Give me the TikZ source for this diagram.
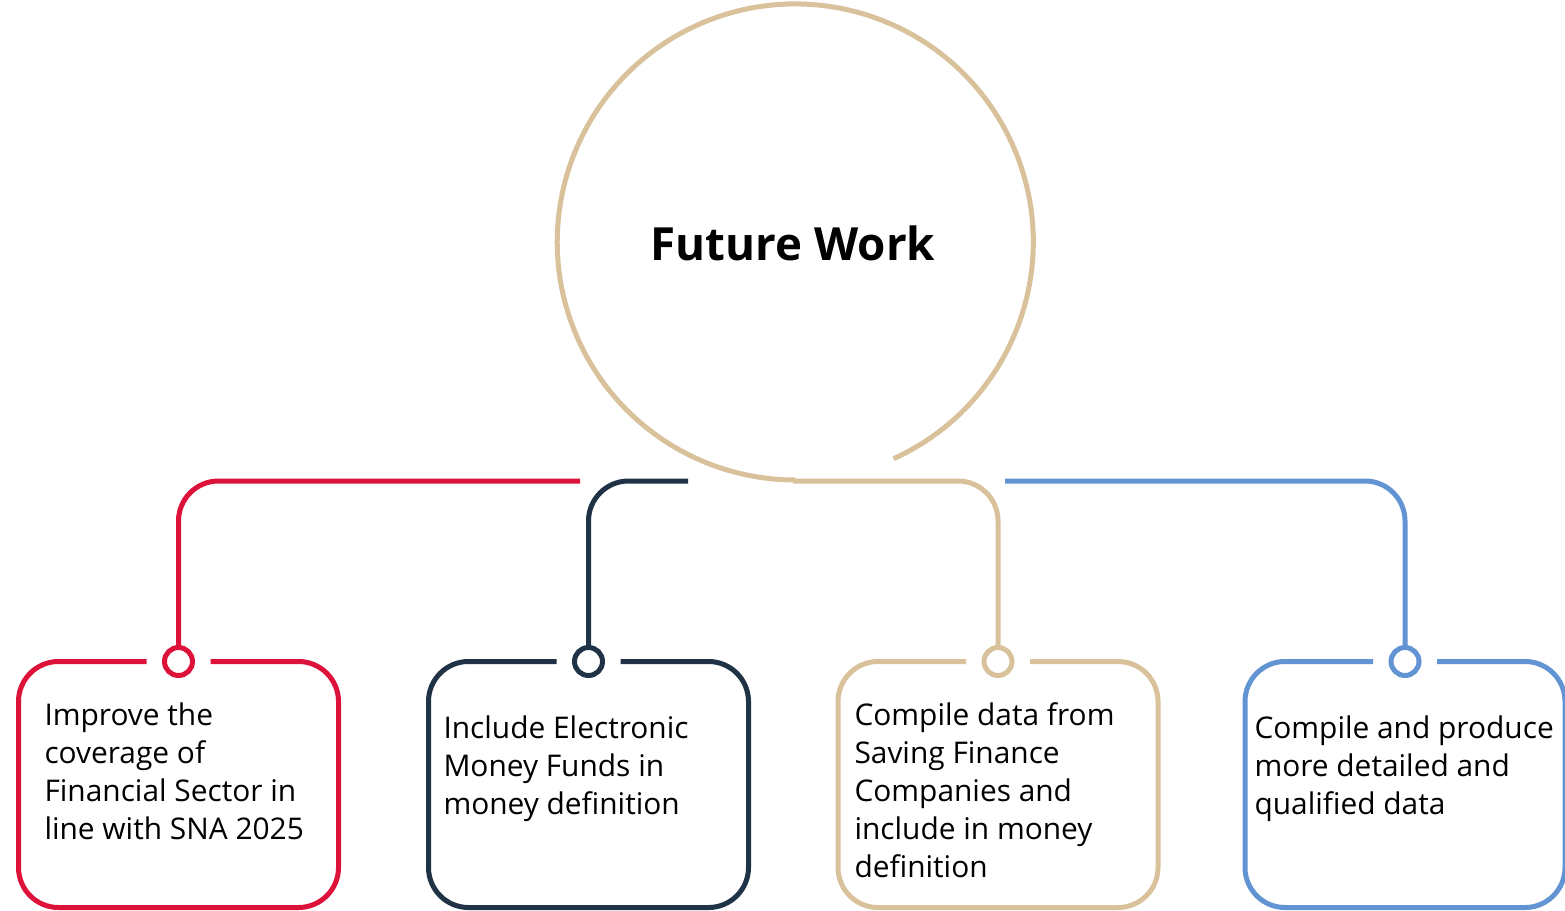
\documentclass[tikz,border=0pt]{standalone}
\usepackage{fontspec}
\setmainfont{Open Sans}
\usetikzlibrary{calc}
\definecolor{fwred}{RGB}{220,18,58}
\definecolor{fwnavy}{RGB}{32,50,70}
\definecolor{fwtan}{RGB}{216,193,155}
\definecolor{fwblue}{RGB}{98,147,210}
\begin{document}
\begin{tikzpicture}[line width=0.1cm,
	box/.style={minimum width=6.3cm, minimum height=4.82cm, inner sep=0pt},
	dot/.style={circle, draw, fill=white, minimum size=0.56cm, inner sep=0pt},
	txt/.style={align=left, inner sep=0pt, anchor=north west, font=\fontsize{17}{21.6}\selectfont},
	link/.style={rounded corners=0.8cm}]
	\useasboundingbox (0,0) rectangle (31.3,18.2);
	\node[circle, minimum size=9.52cm, outer sep=0pt, font=\fontsize{26}{31}\selectfont\bfseries] (F) at (15.86,13.34) {Future Work};
	\node[box] (B1) at (3.57,2.51) {};
	\node[box] (B2) at (11.77,2.51) {};
	\node[box] (B3) at (19.96,2.51) {};
	\node[box] (B4) at (28.1,2.51) {};
	\node[dot, draw=fwred] (P1) at (B1.north) {};
	\node[dot, draw=fwnavy] (P2) at (B2.north) {};
	\node[dot, draw=fwtan] (P3) at (B3.north) {};
	\node[dot, draw=fwblue] (P4) at (B4.north) {};
	\coordinate (S1) at (11.6,8.58);
	\coordinate (S2) at (13.76,8.58);
	\coordinate (S4) at (20.1,8.58);
	\draw[fwtan] (F.-65.6) arc[start angle=-65.6, end angle=270, radius=4.76cm];
	\draw[fwtan, link] (F.south) -| (P3);
	\draw[fwred, link] (S1) -| (P1);
	\draw[fwnavy, link] (S2) -| (P2);
	\draw[fwblue, link] (S4) -| (P4);
	\draw[fwred, link] ([xshift=0.64cm]P1.center) -- (B1.north east) -- (B1.south east) -- (B1.south west) -- (B1.north west) -- ([xshift=-0.64cm]P1.center);
	\draw[fwnavy, link] ([xshift=0.64cm]P2.center) -- (B2.north east) -- (B2.south east) -- (B2.south west) -- (B2.north west) -- ([xshift=-0.64cm]P2.center);
	\draw[fwtan, link] ([xshift=0.64cm]P3.center) -- (B3.north east) -- (B3.south east) -- (B3.south west) -- (B3.north west) -- ([xshift=-0.64cm]P3.center);
	\draw[fwblue, link] ([xshift=0.64cm]P4.center) -- (B4.north east) -- (B4.south east) -- (B4.south west) -- (B4.north west) -- ([xshift=-0.64cm]P4.center);
	\node[txt] (T1) at (0.84,4.2) {Improve the\\coverage of\\Financial Sector in\\line with SNA 2025};
	\node[txt] (T2) at (8.82,3.94) {Include Electronic\\Money Funds in\\money definition};
	\node[txt] (T3) at (17.04,4.2) {Compile data from\\Saving Finance\\Companies and\\include in money\\definition};
	\node[txt] (T4) at (25.04,3.94) {Compile and produce\\more detailed and\\qualified data};
\end{tikzpicture}
\end{document}
